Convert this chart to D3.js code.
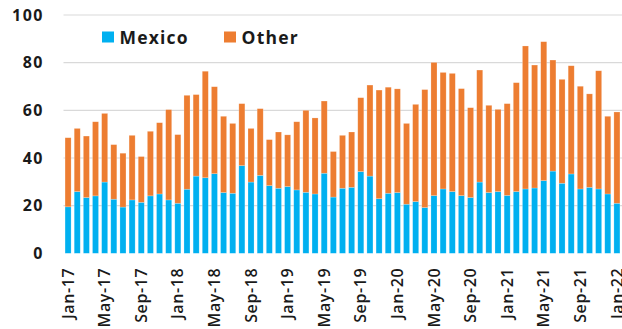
<!DOCTYPE html>
<html>
<head>
<meta charset="utf-8">
<script src="https://cdn.jsdelivr.net/npm/d3@7"></script>
<style>
  html, body { margin: 0; padding: 0; background: #fff; }
  svg { display: block; }
</style>
</head>
<body>
<svg id="chart" width="622" height="329"></svg>
<script>
// Monthly categories, Jan-17 through Jan-22
const months = [
  "Jan-17","Feb-17","Mar-17","Apr-17","May-17","Jun-17","Jul-17","Aug-17","Sep-17","Oct-17","Nov-17","Dec-17",
  "Jan-18","Feb-18","Mar-18","Apr-18","May-18","Jun-18","Jul-18","Aug-18","Sep-18","Oct-18","Nov-18","Dec-18",
  "Jan-19","Feb-19","Mar-19","Apr-19","May-19","Jun-19","Jul-19","Aug-19","Sep-19","Oct-19","Nov-19","Dec-19",
  "Jan-20","Feb-20","Mar-20","Apr-20","May-20","Jun-20","Jul-20","Aug-20","Sep-20","Oct-20","Nov-20","Dec-20",
  "Jan-21","Feb-21","Mar-21","Apr-21","May-21","Jun-21","Jul-21","Aug-21","Sep-21","Oct-21","Nov-21","Dec-21",
  "Jan-22"
];

const mexico = [
  19.5, 25.9, 23.4, 24.1, 29.9, 22.7, 19.4, 22.4, 21.4, 24.1, 24.9, 22.4,
  21.0, 26.9, 32.4, 31.7, 33.4, 25.5, 25.2, 36.8, 29.9, 32.7, 28.4, 27.3,
  28.0, 26.6, 25.6, 24.9, 33.6, 23.6, 27.3, 27.7, 34.3, 32.4, 22.9, 25.2,
  25.5, 20.6, 21.7, 19.2, 24.2, 27.0, 25.9, 24.2, 23.4, 29.9, 25.5, 25.9,
  24.3, 25.9, 27.0, 27.4, 30.5, 34.5, 29.4, 33.3, 27.0, 27.7, 27.0, 24.9,
  21.0
];

const other = [
  29.0, 26.5, 25.8, 31.1, 28.8, 22.9, 22.6, 27.1, 19.2, 27.1, 29.9, 37.9,
  28.8, 39.4, 34.2, 44.7, 36.5, 32.0, 29.3, 26.0, 22.5, 28.0, 19.3, 23.6,
  21.7, 28.6, 34.4, 31.9, 30.3, 19.1, 22.2, 23.2, 31.0, 38.2, 45.6, 44.5,
  43.5, 33.9, 40.8, 49.5, 55.9, 48.9, 49.6, 44.9, 37.7, 47.0, 36.6, 34.5,
  38.5, 45.7, 60.0, 51.6, 58.3, 46.6, 43.6, 45.4, 43.1, 39.2, 49.6, 32.6,
  38.3
];

const seriesNames = ["Mexico", "Other"];
const seriesColors = ["#00b0f0", "#ed7d31"];
const yTicks = [0, 20, 40, 60, 80, 100];

const svg = d3.select("#chart");
const plotLeft = 63.5, plotRight = 621.5, plotTop = 15, plotBottom = 253.3;

const x = d3.scaleBand().domain(months).range([plotLeft, plotRight]).paddingInner(0.34).paddingOuter(0.17);
const y = d3.scaleLinear().domain([0, 100]).range([plotBottom, plotTop]);

// horizontal gridlines
svg.append("g")
  .selectAll("line")
  .data(yTicks.filter(d => d > 0))
  .join("line")
  .attr("x1", plotLeft).attr("x2", 622)
  .attr("y1", d => y(d)).attr("y2", d => y(d))
  .attr("stroke", "#d9d9d9").attr("stroke-width", 1.2);

// y axis labels
const yAxis = svg.append("g")
  .attr("transform", "translate(44,0)")
  .call(d3.axisLeft(y).tickValues(yTicks).tickSize(0).tickPadding(0));
yAxis.select(".domain").remove();
yAxis.selectAll("text")
  .attr("font-family", "'Open Sans', sans-serif")
  .attr("font-weight", 700)
  .attr("font-size", 16)
  .attr("letter-spacing", 1.5)
  .attr("fill", "#1a1a1a");

// stacked bars
const rows = months.map((m, i) => ({ month: m, Mexico: mexico[i], Other: other[i] }));
const stacked = d3.stack().keys(seriesNames)(rows);

svg.append("g")
  .selectAll("g")
  .data(stacked)
  .join("g")
  .attr("fill", (d, i) => seriesColors[i])
  .selectAll("rect")
  .data(d => d)
  .join("rect")
  .attr("x", d => x(d.data.month))
  .attr("width", x.bandwidth())
  .attr("y", d => y(d[1]))
  .attr("height", d => y(d[0]) - y(d[1]))
  .attr("stroke", "rgba(255,255,255,0.35)")
  .attr("stroke-width", 0.6);

// x axis labels, every fourth month, rotated
const xAxis = svg.append("g")
  .attr("transform", `translate(0,${plotBottom + 14.5})`)
  .call(d3.axisBottom(x).tickValues(months.filter((d, i) => i % 4 === 0)).tickSize(0).tickPadding(0));
xAxis.select(".domain").remove();
xAxis.selectAll("text")
  .attr("font-family", "'Open Sans', sans-serif")
  .attr("font-weight", 600)
  .attr("font-size", 16)
  .attr("letter-spacing", 0.6)
  .attr("fill", "#1a1a1a")
  .attr("text-anchor", "end")
  .attr("dy", "0.35em")
  .attr("x", 0).attr("y", 0)
  .attr("transform", "rotate(-90)");

// legend
const legend = svg.append("g");
const legendX = [102, 224];
seriesNames.forEach((name, i) => {
  legend.append("rect")
    .attr("x", legendX[i]).attr("y", 31.5)
    .attr("width", 12).attr("height", 11)
    .attr("fill", seriesColors[i]);
  legend.append("text")
    .attr("x", legendX[i] + 17.5).attr("y", 37.5)
    .attr("dy", "0.35em")
    .attr("font-family", "'Open Sans', sans-serif")
    .attr("font-weight", 700)
    .attr("font-size", 17.5)
    .attr("letter-spacing", 1.2)
    .attr("fill", "#1a1a1a")
    .text(name);
});
</script>
</body>
</html>
